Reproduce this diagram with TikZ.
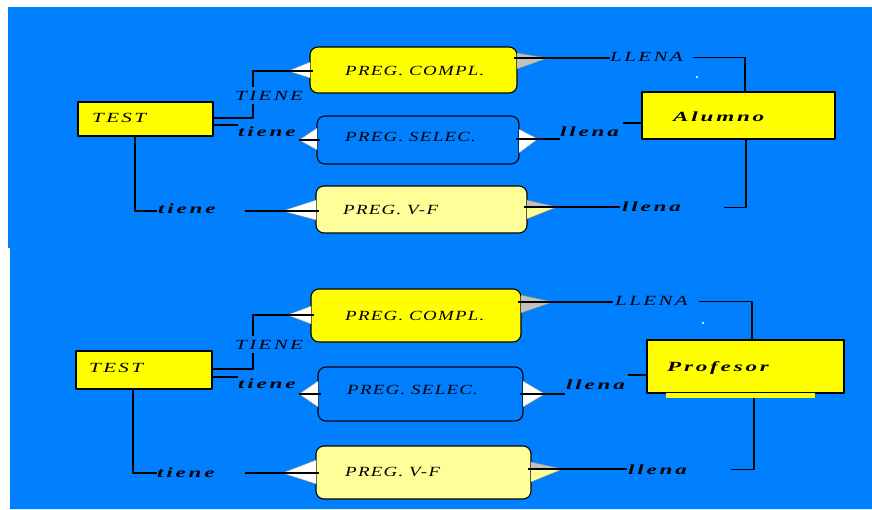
\documentclass[tikz,border=0pt]{standalone}
\usepackage{fontspec}
\setmainfont{Liberation Serif}
\newfontfamily\erfont[FakeStretch=1.35,LetterSpace=9]{Liberation Serif}
\newfontfamily\erfontc[FakeStretch=1.5,LetterSpace=17]{Liberation Serif}
\newfontfamily\erfontb[FakeStretch=1.65,LetterSpace=20]{Liberation Serif}
\definecolor{fondo}{RGB}{0,128,255}
\definecolor{amarillo}{RGB}{255,255,0}
\definecolor{crema}{RGB}{255,255,153}
\definecolor{gris}{RGB}{192,192,192}
\begin{document}
\begin{tikzpicture}[x=1pt,y=-1pt,line join=round,
	linea/.style={line width=1.1pt},
	entidad/.style={draw,line width=1.1pt,fill=amarillo,inner sep=0pt},
	pregunta/.style={draw,line width=1.1pt,rounded corners=8pt,inner sep=0pt},
	txt/.style={font=\fontsize{14}{16}\selectfont\erfont\itshape,inner sep=0pt,anchor=base west},
	txtc/.style={txt,font=\fontsize{14}{16}\selectfont\erfontc\itshape},
	txtb/.style={txt,font=\fontsize{14}{16}\selectfont\erfontb\bfseries\itshape}]
	\fill[white] (0,0) rectangle (872,509);
	\fill[fondo] (8,7) -- (872,7) -- (872,509) -- (10,509) -- (10,248) -- (8,248) -- cycle;
	
	\node[entidad,minimum width=135,minimum height=34] (testA) at (145.5,119) {};
	\node[pregunta,fill=amarillo,minimum width=207,minimum height=46] (complA) at (413.5,70) {};
	\node[pregunta,fill=fondo,minimum width=202,minimum height=48] (selecA) at (418,140) {};
	\node[pregunta,fill=crema,minimum width=211,minimum height=47] (vfA) at (421.5,209.5) {};
	\node[entidad,minimum width=193,minimum height=47] (alumno) at (738.5,115.5) {};
	
	\node[entidad,minimum width=136,minimum height=38] (testB) at (144,370) {};
	\node[pregunta,fill=amarillo,minimum width=210,minimum height=53] (complB) at (416,315.5) {};
	\node[pregunta,fill=fondo,minimum width=205,minimum height=54] (selecB) at (420.5,394) {};
	\node[pregunta,fill=crema,minimum width=215,minimum height=53] (vfB) at (423.5,472.5) {};
	\node[entidad,minimum width=197,minimum height=53] (profesor) at (745.5,366.5) {};
	\node[fill=amarillo,inner sep=0pt,minimum width=149,minimum height=5] (barra) at (740.5,395.5) {};
	
	\foreach \n/\ax/\ay/\bx/\ta/\tb/\ca/\cb in {
		aCi/288/71/310/62/78/white/white, aCd/548/58/517/53/69/gris/gris,
		aSi/299/140/317/128/150/white/white, aSd/538/139/519/129/153/white/white,
		aVi/282/211/316/200/220/white/white, aVd/557/207/527/200/219/gris/crema,
		bCi/287/315/311/306/324/white/white, bCd/553/302/521/295/313/gris/gris,
		bSi/299/394/318/381/407/white/white, bSd/545/394/523/381/407/white/white,
		bVi/282/473/316/460/484/white/white, bVd/563/469/531/462/482/gris/crema}{
		\pgfmathsetmacro\ex{\bx+3*sign(\bx-\ax)}
		\fill[\ca] (\bx,\ta) -- (\ax,\ay) -- (\bx,\ay) -- cycle;
		\fill[\cb] (\bx,\ay) -- (\ax,\ay) -- (\bx,\tb) -- cycle;
		\draw[gray,line width=.4pt] (\bx,\ta) -- (\ax,\ay) -- (\bx,\tb);
		\coordinate (\n) at (\ax,\ay);
		\draw[linea] (\n) -- (\ex,\ay);
	}
	
	\draw[linea] ([yshift=1pt]testA.east) -| ([xshift=-35pt]aCi) -- (aCi);
	\draw[linea] ([yshift=-6pt]testA.east) -- ++(24,0);
	\draw[linea] ([xshift=-10.5pt]testA.south) |- ([xshift=-125pt]aVi);
	\draw[linea] (aVi) -- ++(-37,0);
	\draw[linea] (aCd) -- ++(62,0);
	\draw[linea] ([xshift=6.5pt]alumno.north) |- ++(-52,-34);
	\draw[linea] (aSd) -- ++(22,0);
	\draw[linea] ([yshift=-7.5pt]alumno.west) -- ++(-18,0);
	\draw[linea] (aVd) -- ++(63,0);
	\draw[linea] ([xshift=7.5pt]alumno.south) |- ++(-22,68);
	
	\draw[linea] ([yshift=1pt]testB.east) -| ([xshift=-34pt]bCi) -- (bCi);
	\draw[linea] ([yshift=-7pt]testB.east) -- ++(25,0);
	\draw[linea] ([xshift=-11pt]testB.south) |- ([xshift=-125pt]bVi);
	\draw[linea] (bVi) -- ++(-37,0);
	\draw[linea] (bCd) -- ++(60,0);
	\draw[linea] ([xshift=6.5pt]profesor.north) |- ++(-53,-38);
	\draw[linea] (bSd) -- ++(20,0);
	\draw[linea] ([yshift=-8.5pt]profesor.west) -- ++(-18,0);
	\draw[linea] (bVd) -- ++(64,0);
	\draw[linea] ([xshift=13.5pt]barra.south) |- ++(-23,71);
	
	\path
	(92,122) node[txtc] (testAt) {TEST}
	(235,100) node[txtc,fill=fondo,inner ysep=4pt] (tieneAt) {TIENE}
	(238,136.5) node[txtb] (tieneBt) {tiene}
	(158,213.7) node[txtb] (tieneCt) {tiene}
	(345,75) node[txt] (complAt) {PREG. COMPL.}
	(345,141) node[txt] (selecAt) {PREG. SELEC.}
	(343,214) node[txt] (vfAt) {PREG. V-F}
	(610,61.3) node[txtc] (llenaAt) {LLENA}
	(560,136.7) node[txtb] (llenaBt) {llena}
	(622,211.7) node[txtb] (llenaCt) {llena}
	(673,121.7) node[txtb] (alumnoT) {Alumno}
	;
	\path
	(89,372.7) node[txtc] (testBt) {TEST}
	(235,349) node[txtc,fill=fondo,inner ysep=4pt] (tieneDt) {TIENE}
	(238,388.7) node[txtb] (tieneEt) {tiene}
	(157,477.3) node[txtb] (tieneFt) {tiene}
	(345,320) node[txt] (complBt) {PREG. COMPL.}
	(347,394.3) node[txt] (selecBt) {PREG. SELEC.}
	(345,476.7) node[txt] (vfBt) {PREG. V-F}
	(615,305) node[txtc] (llenaDt) {LLENA}
	(566,389) node[txtb] (llenaEt) {llena}
	(628,474) node[txtb] (llenaFt) {llena}
	(667,371.7) node[txtb] (profT) {Profesor}
	;
	\fill[white] (697,77) circle (1.2) (703,323) circle (1.2);
\end{tikzpicture}
\end{document}
